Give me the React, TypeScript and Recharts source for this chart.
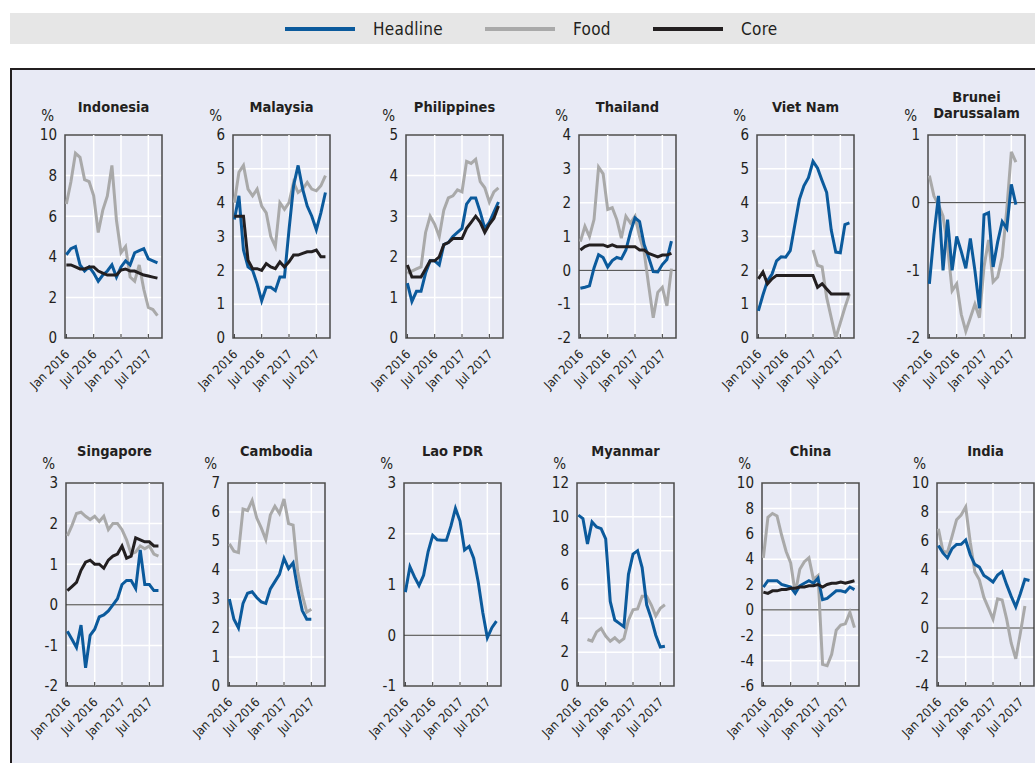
import React from "react";
import {
  LineChart,
  Line,
  XAxis,
  YAxis,
  CartesianGrid,
  ReferenceLine,
  ReferenceArea,
} from "recharts";

const FONT = "'DejaVu Sans Condensed', 'Liberation Sans Narrow', 'Arial Narrow', sans-serif";
const HEADLINE = "#0b5a9c";
const FOOD = "#a9a9a9";
const CORE = "#231f20";
const INK = "#231f20";

// months are indexed from Jan 2016 (0)
const tickValues = [0, 6, 12, 18];
const tickLabels = ["Jan 2016", "Jul 2016", "Jan 2017", "Jul 2017"];
const seriesNames = ["Headline", "Food", "Core"];

const idnHeadline = [4.1, 4.4, 4.5, 3.6, 3.3, 3.5, 3.2, 2.8, 3.1, 3.3, 3.6, 3.0, 3.5, 3.8, 3.6, 4.2, 4.3, 4.4, 3.9, 3.8, 3.7];
const idnFood = [6.6, 7.7, 9.1, 8.9, 7.8, 7.7, 7.0, 5.2, 6.3, 7.0, 8.5, 5.8, 4.2, 4.5, 3.0, 2.8, 3.6, 2.4, 1.5, 1.4, 1.1];
const idnCore = [3.6, 3.6, 3.5, 3.4, 3.4, 3.5, 3.5, 3.3, 3.2, 3.1, 3.1, 3.1, 3.35, 3.4, 3.3, 3.3, 3.2, 3.1, 3.05, 3.0, 2.95];

const mysHeadline = [3.5, 4.2, 2.6, 2.1, 2.0, 1.6, 1.1, 1.5, 1.5, 1.4, 1.8, 1.8, 3.2, 4.5, 5.1, 4.4, 3.9, 3.6, 3.2, 3.7, 4.3];
const mysFood = [4.0, 4.9, 5.1, 4.4, 4.2, 4.4, 3.9, 3.7, 3.0, 2.7, 4.0, 3.8, 4.0, 4.6, 4.3, 4.4, 4.6, 4.4, 4.35, 4.5, 4.8];
const mysCore = [3.6, 3.6, 3.6, 2.3, 2.05, 2.05, 2.0, 2.2, 2.1, 2.05, 2.25, 2.1, 2.25, 2.45, 2.45, 2.5, 2.55, 2.55, 2.6, 2.4, 2.4];

const phlHeadline = [1.35, 0.9, 1.15, 1.15, 1.6, 1.9, 1.9, 1.8, 2.3, 2.35, 2.5, 2.6, 2.7, 3.3, 3.45, 3.45, 3.1, 2.7, 2.85, 3.1, 3.35];
const phlFood = [1.6, 1.65, 1.7, 1.75, 2.6, 3.0, 2.8, 2.5, 3.15, 3.45, 3.5, 3.65, 3.6, 4.35, 4.3, 4.4, 3.85, 3.7, 3.35, 3.6, 3.7];
const phlCore = [1.8, 1.5, 1.5, 1.5, 1.7, 1.9, 1.9, 2.0, 2.3, 2.35, 2.45, 2.45, 2.45, 2.7, 2.85, 3.0, 2.85, 2.6, 2.8, 2.95, 3.25];

const thaHeadline = [-0.53, -0.5, -0.46, 0.07, 0.46, 0.38, 0.1, 0.29, 0.38, 0.34, 0.6, 1.13, 1.55, 1.44, 0.76, 0.38, -0.04, -0.05, 0.17, 0.32, 0.86];
const thaFood = [0.85, 1.3, 1.0, 1.5, 3.05, 2.85, 1.8, 1.85, 1.5, 0.95, 1.6, 1.4, 1.6, 1.0, 0.55, -0.45, -1.4, -0.65, -0.5, -1.05, 0.05];
const thaCore = [0.6, 0.7, 0.75, 0.75, 0.75, 0.75, 0.7, 0.75, 0.7, 0.7, 0.7, 0.7, 0.7, 0.6, 0.6, 0.5, 0.45, 0.4, 0.45, 0.45, 0.5];

const vnmHeadline = [0.8, 1.27, 1.69, 1.89, 2.28, 2.4, 2.39, 2.58, 3.34, 4.09, 4.5, 4.74, 5.22, 5.02, 4.65, 4.3, 3.19, 2.54, 2.52, 3.35, 3.4];
const vnmFood = [null, null, null, null, null, null, null, null, null, null, null, null, 2.6, 2.15, 2.1, 1.2, 0.6, 0.0, 0.45, 0.9, 1.3];
const vnmCore = [1.75, 1.95, 1.6, 1.75, 1.85, 1.85, 1.85, 1.85, 1.85, 1.85, 1.85, 1.85, 1.85, 1.5, 1.6, 1.45, 1.3, 1.3, 1.3, 1.3, 1.3];

const brnHeadline = [-1.2, -0.48, 0.1, -1.0, -0.25, -1.0, -0.5, -0.72, -0.97, -0.53, -1.0, -1.56, -0.18, -0.15, -0.95, -0.58, -0.28, -0.38, 0.27, -0.03];
const brnFood = [0.4, 0.1, -0.03, -0.2, -0.65, -1.3, -1.2, -1.65, -1.9, -1.7, -1.5, -1.7, -0.95, -0.55, -1.17, -1.1, -0.8, -0.1, 0.75, 0.6];

const sgpHeadline = [-0.65, -0.85, -1.05, -0.5, -1.55, -0.75, -0.6, -0.3, -0.25, -0.15, 0.0, 0.15, 0.5, 0.6, 0.6, 0.4, 1.35, 0.5, 0.5, 0.35, 0.35];
const sgpFood = [1.7, 1.95, 2.25, 2.28, 2.18, 2.1, 2.18, 2.05, 2.18, 1.85, 2.0, 2.0, 1.85, 1.6, 1.25, 1.3, 1.45, 1.38, 1.45, 1.25, 1.2];
const sgpCore = [0.35, 0.45, 0.55, 0.85, 1.05, 1.1, 1.0, 1.0, 0.9, 1.1, 1.2, 1.25, 1.45, 1.15, 1.2, 1.65, 1.6, 1.55, 1.55, 1.45, 1.45];

const khmHeadline = [3.0, 2.3, 2.0, 2.85, 3.2, 3.25, 3.05, 2.9, 2.85, 3.35, 3.6, 3.85, 4.4, 4.05, 4.25, 3.35, 2.6, 2.3, 2.3];
const khmFood = [4.9, 4.65, 4.6, 6.1, 6.05, 6.4, 5.8, 5.45, 5.05, 5.9, 6.2, 5.95, 6.45, 5.6, 5.55, 3.95, 3.15, 2.55, 2.65];

const laoHeadline = [0.85, 1.35, 1.15, 0.98, 1.18, 1.65, 1.97, 1.88, 1.87, 1.87, 2.15, 2.5, 2.25, 1.68, 1.75, 1.52, 1.05, 0.45, -0.05, 0.15, 0.28];

const mmrHeadline = [10.1, 9.9, 8.4, 9.7, 9.4, 9.3, 8.7, 5.0, 3.9, 3.7, 3.5, 6.6, 7.8, 8.0, 7.0, 4.8, 4.0, 3.0, 2.3, 2.35];
const mmrFood = [null, null, 2.75, 2.65, 3.2, 3.4, 2.95, 2.65, 2.85, 2.6, 2.8, 3.9, 4.5, 4.55, 5.3, 5.3, 4.8, 4.15, 4.6, 4.8];

const chnHeadline = [1.8, 2.3, 2.3, 2.3, 2.0, 1.9, 1.8, 1.3, 1.9, 2.1, 2.3, 2.1, 2.5, 0.8, 0.9, 1.2, 1.5, 1.5, 1.4, 1.8, 1.6];
const chnFood = [4.1, 7.3, 7.6, 7.4, 5.9, 4.6, 3.7, 1.3, 3.2, 3.8, 4.1, 2.4, 2.7, -4.3, -4.4, -3.5, -1.6, -1.2, -1.1, -0.2, -1.4];
const chnCore = [1.4, 1.3, 1.5, 1.5, 1.6, 1.6, 1.7, 1.7, 1.8, 1.8, 1.9, 1.9, 2.0, 1.8, 2.0, 2.1, 2.1, 2.2, 2.1, 2.2, 2.3];

const indHeadline = [5.69, 5.18, 4.83, 5.47, 5.76, 5.77, 6.07, 5.05, 4.39, 4.2, 3.63, 3.41, 3.17, 3.65, 3.89, 2.99, 2.18, 1.46, 2.36, 3.36, 3.28];
const indFood = [6.85, 5.3, 5.21, 6.32, 7.47, 7.79, 8.35, 5.91, 3.88, 3.32, 2.11, 1.37, 0.61, 2.01, 1.93, 0.61, -1.05, -2.12, -0.36, 1.52];

type Series = (number | null)[];
type Panel = {
  title: string;
  yTicks: number[];
  headline: Series;
  food?: Series;
  core?: Series;
};

const panels: Panel[] = [
  { title: "Indonesia", yTicks: [0, 2, 4, 6, 8, 10], headline: idnHeadline, food: idnFood, core: idnCore },
  { title: "Malaysia", yTicks: [0, 1, 2, 3, 4, 5, 6], headline: mysHeadline, food: mysFood, core: mysCore },
  { title: "Philippines", yTicks: [0, 1, 2, 3, 4, 5], headline: phlHeadline, food: phlFood, core: phlCore },
  { title: "Thailand", yTicks: [-2, -1, 0, 1, 2, 3, 4], headline: thaHeadline, food: thaFood, core: thaCore },
  { title: "Viet Nam", yTicks: [0, 1, 2, 3, 4, 5, 6], headline: vnmHeadline, food: vnmFood, core: vnmCore },
  { title: "Brunei\nDarussalam", yTicks: [-2, -1, 0, 1], headline: brnHeadline, food: brnFood },
  { title: "Singapore", yTicks: [-2, -1, 0, 1, 2, 3], headline: sgpHeadline, food: sgpFood, core: sgpCore },
  { title: "Cambodia", yTicks: [0, 1, 2, 3, 4, 5, 6, 7], headline: khmHeadline, food: khmFood },
  { title: "Lao PDR", yTicks: [-1, 0, 1, 2, 3], headline: laoHeadline },
  { title: "Myanmar", yTicks: [0, 2, 4, 6, 8, 10, 12], headline: mmrHeadline, food: mmrFood },
  { title: "China", yTicks: [-6, -4, -2, 0, 2, 4, 6, 8, 10], headline: chnHeadline, food: chnFood, core: chnCore },
  { title: "India", yTicks: [-4, -2, 0, 2, 4, 6, 8, 10], headline: indHeadline, food: indFood },
];

// plot-area placement of each small multiple
const plotLefts = [65, 233, 406, 579, 757, 928, 66, 228, 404, 577, 762, 937];
const rowTops = [135, 483];
const PW = 97;
const PH = 203;
const YW = 60;
const MT = 14;
const MR = 4;
const XH = 64;
const X_DOMAIN: [number, number] = [-0.3, 21];

const buildRows = (p: Panel) => {
  const n = Math.max(p.headline.length, p.food?.length ?? 0, p.core?.length ?? 0);
  return Array.from({ length: n }, (_, m) => ({
    m,
    headline: p.headline[m] ?? null,
    food: p.food ? p.food[m] ?? null : null,
    core: p.core ? p.core[m] ?? null : null,
  }));
};

const MonthTick = (props: any) => {
  const { x, y, payload } = props;
  const label = tickLabels[tickValues.indexOf(payload.value)];
  return (
    <text
      x={0}
      y={0}
      transform={`translate(${x + 4},${y + 17}) rotate(-45)`}
      textAnchor="end"
      fontSize={12.5}
      fill={INK}
      fontFamily={FONT}
    >
      {label}
    </text>
  );
};

const SmallChart = ({ p, idx }: { p: Panel; idx: number }) => {
  const row = idx < 6 ? 0 : 1;
  const left = plotLefts[idx];
  const top = rowTops[row];
  const yMin = p.yTicks[0];
  const yMax = p.yTicks[p.yTicks.length - 1];
  const data = buildRows(p);
  const lines = p.title.split("\n").length;
  const titleTop = lines > 1 ? top - 46 : top - (row === 0 ? 36 : 40);

  return (
    <>
      <div
        style={{
          position: "absolute",
          left: left - 10,
          width: PW + 20,
          top: titleTop,
          textAlign: "center",
          fontWeight: "bold",
          fontSize: 14.5,
          lineHeight: "16px",
          whiteSpace: "pre-line",
          color: INK,
        }}
      >
        {p.title}
      </div>
      <div
        style={{
          position: "absolute",
          left: left - 40,
          width: 29,
          top: top - 28,
          textAlign: "right",
          fontSize: 15,
          lineHeight: "18px",
          color: INK,
        }}
      >
        %
      </div>
      <div style={{ position: "absolute", left: left - YW, top: top - MT }}>
        <LineChart
          width={YW + PW + MR}
          height={MT + PH + XH}
          data={data}
          margin={{ top: MT, right: MR, left: 0, bottom: 0 }}
        >
          <CartesianGrid vertical={false} stroke="#ffffff" strokeWidth={1.5} />
          {tickValues.slice(1).map((v) => (
            <ReferenceLine key={v} x={v} stroke="#ffffff" strokeWidth={1.5} />
          ))}
          <XAxis
            type="number"
            dataKey="m"
            domain={X_DOMAIN}
            ticks={tickValues}
            interval={0}
            allowDataOverflow
            axisLine={false}
            tickLine={{ stroke: "#333333" }}
            tickSize={-4}
            tickMargin={4}
            height={XH}
            tick={<MonthTick />}
          />
          <YAxis
            width={YW}
            domain={[yMin, yMax]}
            ticks={p.yTicks}
            interval={0}
            allowDataOverflow
            axisLine={false}
            tickLine={false}
            tick={{ fontSize: 15, fill: INK, fontFamily: FONT }}
          />
          {yMin < 0 && <ReferenceLine y={0} stroke="#3a3a3a" strokeWidth={1} />}
          {p.food && (
            <Line dataKey="food" stroke={FOOD} strokeWidth={3} dot={false} isAnimationActive={false} />
          )}
          <Line dataKey="headline" stroke={HEADLINE} strokeWidth={3} dot={false} isAnimationActive={false} />
          {p.core && (
            <Line dataKey="core" stroke={CORE} strokeWidth={3} dot={false} isAnimationActive={false} />
          )}
          <ReferenceArea
            x1={X_DOMAIN[0]}
            x2={X_DOMAIN[1]}
            y1={yMin}
            y2={yMax}
            fill="none"
            fillOpacity={0}
            stroke="#4a4a4a"
            strokeWidth={1.5}
          />
        </LineChart>
      </div>
    </>
  );
};

const legendColors = [HEADLINE, FOOD, CORE];
const legendX = [285, 485, 653];

const App = () => {
  return (
    <div
      style={{
        position: "absolute",
        left: 0,
        top: 0,
        width: 1035,
        height: 763,
        overflow: "hidden",
        background: "#ffffff",
        fontFamily: FONT,
      }}
    >
      <div style={{ position: "absolute", left: 10, top: 13, width: 1030, height: 31, background: "#e6e6e6" }} />
      {seriesNames.map((name, i) => (
        <div
          key={name}
          style={{ position: "absolute", left: legendX[i], top: 13, height: 31, display: "flex", alignItems: "center" }}
        >
          <div style={{ width: 70, height: 4, background: legendColors[i] }} />
          <span style={{ marginLeft: 18, fontSize: 17, letterSpacing: 0.3, color: INK }}>{name}</span>
        </div>
      ))}
      <div
        style={{
          position: "absolute",
          left: 10,
          top: 68,
          width: 1040,
          height: 720,
          border: `2px solid ${INK}`,
          background: "#e8eaf5",
        }}
      />
      {panels.map((p, i) => (
        <SmallChart key={p.title} p={p} idx={i} />
      ))}
    </div>
  );
};

export default App;
